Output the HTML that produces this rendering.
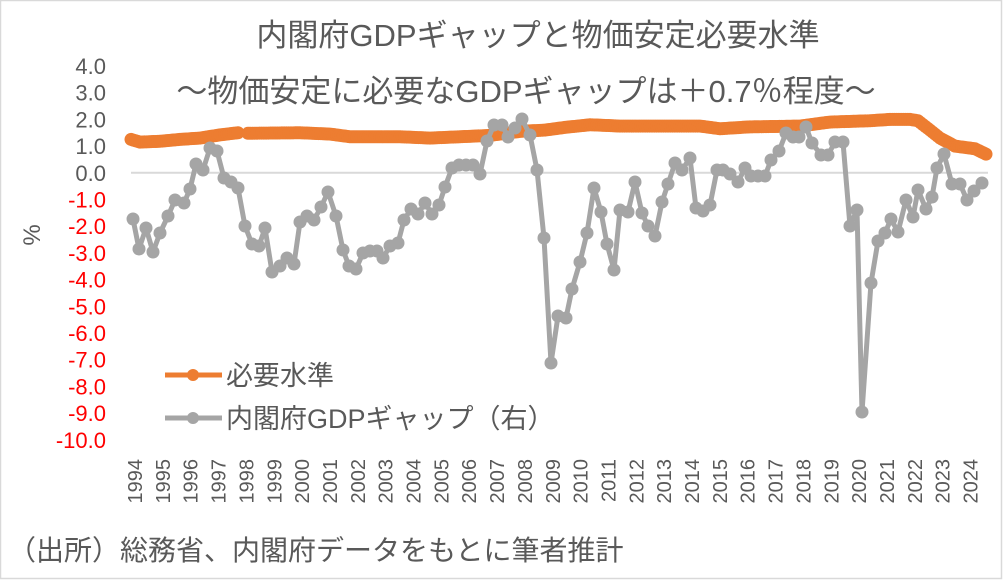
<!DOCTYPE html>
<html><head><meta charset="utf-8"><style>
html,body{margin:0;padding:0;background:#fff;}
svg{display:block;font-family:"Liberation Sans","Noto Sans CJK JP",sans-serif;}
</style></head><body>
<svg id="s" width="1003" height="580" viewBox="0 0 1003 580" xmlns="http://www.w3.org/2000/svg">
<rect x="0.5" y="0.5" width="1001" height="578" fill="#fff" stroke="#d9d9d9" stroke-width="1.5"/>
<text x="538" y="46" font-size="31" fill="#595959" text-anchor="middle">内閣府GDPギャップと物価安定必要水準</text>
<text x="526" y="102" font-size="31" fill="#595959" text-anchor="middle">～物価安定に必要なGDPギャップは＋0.7％程度～</text>
<text transform="translate(40,235) rotate(-90)" font-size="24" fill="#595959" text-anchor="middle">%</text>
<line x1="131" y1="172.8" x2="988" y2="172.8" stroke="#d9d9d9" stroke-width="2"/>
<g id="yl" font-size="22" text-anchor="end"></g>
<g id="xl" font-size="20" fill="#595959"></g>
<g id="ser"></g>
<line x1="165" y1="375" x2="222" y2="375" stroke="#ed7d31" stroke-width="5"/>
<circle cx="193" cy="375" r="6" fill="#ed7d31"/>
<text x="226" y="385" font-size="27" fill="#595959">必要水準</text>
<line x1="165" y1="418" x2="222" y2="418" stroke="#a5a5a5" stroke-width="5"/>
<circle cx="193" cy="418" r="6" fill="#a5a5a5"/>
<text x="226" y="428" font-size="27" fill="#595959">内閣府GDPギャップ（右）</text>
<text x="8" y="560" font-size="28" fill="#595959">（出所）総務省、内閣府データをもとに筆者推計</text>
</svg>
<script>
var NS="http://www.w3.org/2000/svg",s=document.getElementById('s');
function el(p,t,a,txt){var e=document.createElementNS(NS,t);for(var k in a)e.setAttribute(k,a[k]);if(txt!=null)e.textContent=txt;p.appendChild(e);return e;}
var yl=document.getElementById('yl');
for(var v=4;v>=-10;v--){var y=172.8-v*26.7;el(yl,'text',{x:106,y:y+8,fill:v<0?'#ff0000':'#595959'},v.toFixed(1));}
var xl=document.getElementById('xl');
for(var i=0;i<31;i++){var x=135+i*27.85;el(xl,'text',{transform:'translate('+(x+7)+',459) rotate(-90)','text-anchor':'end'},String(1994+i));}
var ser=document.getElementById('ser');
var g=[[133,219],[139,249],[146,228],[153,252],[160,233],[168,216],[175,200],[184,203],[190,189],[196,164],[203,170],[210,148],[217,151],[224,178],[231,182],[238,188],[245,226],[252,244],[259,246],[265,228],[272,272],[280,266],[287,258],[294,264],[300,222],[307,216],[314,220],[321,207],[328,192],[336,216],[343,250],[349,266],[356,269],[363,253],[370,251],[377,251],[383,258],[390,246],[398,243],[404,220],[411,209],[418,214],[425,203],[432,214],[439,205],[445,187],[452,168],[459,165],[466,165],[473,165],[480,174],[487,141],[494,125],[502,125],[508,137],[515,128],[522,119],[530,135],[537,170],[544,238],[551,363],[558,316],[566,318],[572,289],[580,262],[587,233],[594,188],[601,212],[607,244],[614,270],[620,210],[628,212],[635,182],[642,213],[648,226],[655,236],[662,202],[668,184],[675,163],[682,170],[690,158],[696,208],[703,211],[710,205],[717,170],[723,170],[730,174],[738,182],[745,168],[751,176],[758,176],[765,176],[771,160],[779,151],[786,133],[793,137],[799,137],[806,127],[812,143],[821,155],[828,155],[835,142],[843,142],[850,226],[857,210],[862,412],[871,283],[878,241],[885,233],[891,219],[898,232],[906,200],[913,217],[918,190],[926,209],[932,197],[937,168],[944,154],[952,184],[960,184],[967,200],[974,191],[982,183]];
var ok=[[131,1.25],[140,1.15],[160,1.18],[180,1.25],[200,1.3],[220,1.42],[238,1.5],null,[248,1.48],[300,1.5],[330,1.45],[350,1.35],[400,1.35],[430,1.3],[460,1.35],[490,1.4],[520,1.55],[545,1.6],[565,1.7],[590,1.8],[620,1.75],[700,1.75],[720,1.65],[750,1.72],[800,1.75],[830,1.9],[870,1.95],[890,2.0],[910,2.0],[918,1.95],[930,1.6],[940,1.3],[955,1.0],[975,0.9],[986,0.7]];
function drawO(seg){var pts=seg.map(function(p){return p[0]+','+(172.8-p[1]*26.7)}).join(' ');
el(ser,'polyline',{points:pts,fill:'none',stroke:'#ed7d31','stroke-width':5});
for(var i=0;i<seg.length-1;i++){var a=seg[i],b=seg[i+1],n=Math.max(1,Math.round((b[0]-a[0])/2.3));for(var k=0;k<n;k++){var t=k/n;el(ser,'circle',{cx:a[0]+(b[0]-a[0])*t,cy:172.8-(a[1]+(b[1]-a[1])*t)*26.7,r:6.5,fill:'#ed7d31'});}}
var l=seg[seg.length-1];el(ser,'circle',{cx:l[0],cy:172.8-l[1]*26.7,r:6.5,fill:'#ed7d31'});}
var seg=[];ok.forEach(function(p){if(p===null){drawO(seg);seg=[];}else seg.push(p);});drawO(seg);
el(ser,'polyline',{points:g.map(function(p){return p.join(',')}).join(' '),fill:'none',stroke:'#a5a5a5','stroke-width':5,'stroke-linejoin':'round'});
g.forEach(function(p){el(ser,'circle',{cx:p[0],cy:p[1],r:6.5,fill:'#a5a5a5'});});
</script>
</body></html>
